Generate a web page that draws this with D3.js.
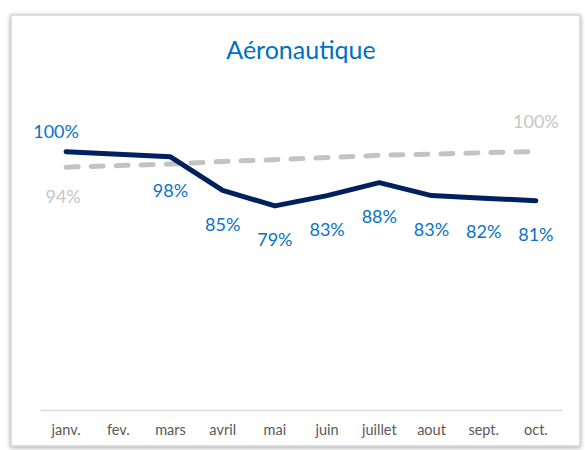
<!DOCTYPE html>
<html>
<head>
<meta charset="utf-8">
<script src="https://cdn.jsdelivr.net/npm/d3@7"></script>
<style>
  body { margin: 0; background: #fff; }
  text { font-family: Lato, "Open Sans", sans-serif; }
</style>
</head>
<body>
<script>
var svgWidth = 585;
var svgHeight = 450;

// data
var months = ["janv.", "fev.", "mars", "avril", "mai", "juin", "juillet", "aout", "sept.", "oct."];
var actual = [1.00, 0.99, 0.98, 0.85, 0.79, 0.83, 0.88, 0.83, 0.82, 0.81];
var target = [0.94, 0.946, 0.952, 0.962, 0.969, 0.977, 0.986, 0.990, 0.996, 1.00];
// which points carry a label
var actualLabelled = [true, false, true, true, true, true, true, true, true, true];
var targetLabelled = [true, false, false, false, false, false, false, false, false, true];
var chartTitle = "Aéronautique";

var plot = { left: 40, right: 562, top: 100, bottom: 410 };

var svg = d3.select("body").append("svg")
  .attr("width", svgWidth)
  .attr("height", svgHeight);

// frame with a soft shadow
var defs = svg.append("defs");
var f = defs.append("filter").attr("id", "shadow")
  .attr("x", "-5%").attr("y", "-5%").attr("width", "110%").attr("height", "110%");
f.append("feDropShadow").attr("dx", 0).attr("dy", 1).attr("stdDeviation", 2)
  .attr("flood-color", "#000").attr("flood-opacity", 0.35);

svg.append("rect")
  .attr("x", 11).attr("y", 15)
  .attr("width", 569).attr("height", 431)
  .attr("fill", "#fff")
  .attr("stroke", "#d4d4d4")
  .attr("stroke-width", 1.5)
  .attr("filter", "url(#shadow)");

// title
svg.append("text")
  .attr("x", 301).attr("y", 59)
  .attr("text-anchor", "middle")
  .attr("fill", "#0070C0")
  .style("font-size", "25px")
  .text(chartTitle);

var x = d3.scaleBand()
  .domain(months)
  .range([plot.left, plot.right]);

var y = d3.scaleLinear()
  .domain([0, 1.2])
  .range([plot.bottom, plot.top]);

var xc = function (m) { return x(m) + x.bandwidth() / 2; };

// category axis
var xAxis = svg.append("g")
  .attr("transform", "translate(0," + plot.bottom + ")")
  .call(d3.axisBottom(x).tickSize(0).tickPadding(15));
xAxis.select(".domain").attr("stroke", "#d9d9d9").attr("stroke-width", 1.5);
xAxis.selectAll("text")
  .attr("fill", "#595959")
  .style("font-size", "14.5px")
  .style("font-family", "Lato, 'Open Sans', sans-serif");

var line = d3.line()
  .x(function (d, i) { return xc(months[i]); })
  .y(function (d) { return y(d); });

// target (dashed grey)
svg.append("path")
  .datum(target)
  .attr("d", line)
  .attr("fill", "none")
  .attr("stroke", "#c3c3c3")
  .attr("stroke-width", 5)
  .attr("stroke-linecap", "round")
  .attr("stroke-dasharray", "12 13");

// actual (navy)
svg.append("path")
  .datum(actual)
  .attr("d", line)
  .attr("fill", "none")
  .attr("stroke", "#002060")
  .attr("stroke-width", 5)
  .attr("stroke-linecap", "round")
  .attr("stroke-linejoin", "round");

var pct = d3.format(".0%");

// keep the original index so the filtered labels stay on their month
function labelData(values, flags) {
  return values.map(function (v, i) { return { v: v, i: i }; })
    .filter(function (d) { return flags[d.i]; });
}

// labels for actual
svg.append("g").selectAll("text")
  .data(labelData(actual, actualLabelled))
  .enter().append("text")
  .attr("x", function (d) { return xc(months[d.i]) - (d.i === 0 ? 10 : 0); })
  .attr("y", function (d) { return y(d.v) + (d.i === 0 ? -20 : 34); })
  .attr("dy", "0.35em")
  .attr("text-anchor", "middle")
  .attr("fill", "#0a72c4")
  .style("font-size", "18px")
  .text(function (d) { return pct(d.v); });

// labels for target
svg.append("g").selectAll("text")
  .data(labelData(target, targetLabelled))
  .enter().append("text")
  .attr("x", function (d) { return xc(months[d.i]) - (d.i === 0 ? 3 : 0); })
  .attr("y", function (d) { return y(d.v) + (d.i === 0 ? 30 : -30); })
  .attr("dy", "0.35em")
  .attr("text-anchor", "middle")
  .attr("fill", "#c6c6c6")
  .style("font-size", "18px")
  .text(function (d) { return pct(d.v); });
</script>
</body>
</html>
